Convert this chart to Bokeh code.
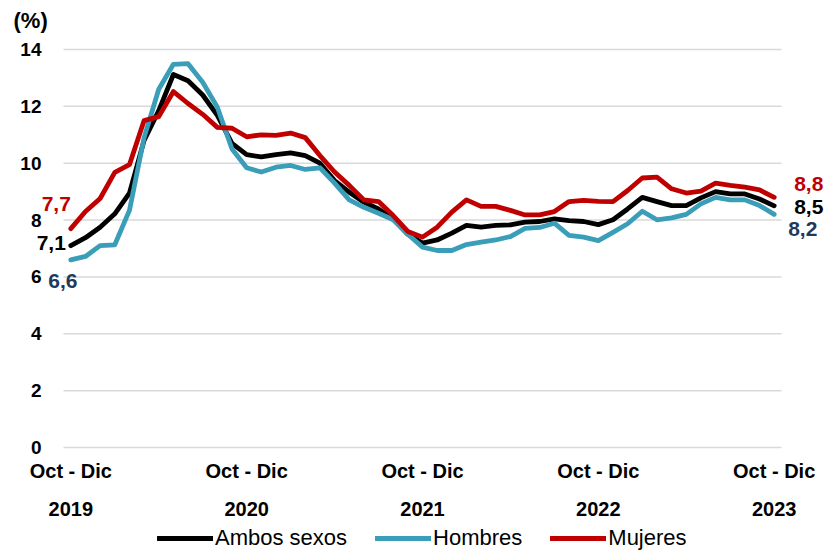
from bokeh.plotting import figure
from bokeh.models import Range1d, Legend, LegendItem, ColumnDataSource
from bokeh.core.properties import value
from bokeh.embed import file_html
from bokeh.resources import INLINE

# ---------------- data ----------------
periods = list(range(49))  # moving quarters, Oct-Dic 2019 ... Oct-Dic 2023
ambos = [7.1, 7.38, 7.75, 8.22, 8.95, 10.8, 11.85, 13.12, 12.9, 12.4, 11.68, 10.7,
         10.3, 10.22, 10.3, 10.36, 10.27, 10.0, 9.39, 8.98, 8.63, 8.39, 8.04, 7.5,
         7.19, 7.3, 7.54, 7.81, 7.75, 7.81, 7.83, 7.93, 7.95, 8.04, 7.98, 7.95,
         7.84, 8.01, 8.39, 8.8, 8.65, 8.51, 8.51, 8.78, 9.0, 8.92, 8.92, 8.74, 8.5]
hombres = [6.6, 6.72, 7.1, 7.13, 8.34, 10.9, 12.6, 13.48, 13.5, 12.85, 11.97, 10.5,
           9.84, 9.69, 9.86, 9.92, 9.78, 9.84, 9.3, 8.71, 8.45, 8.24, 8.01, 7.5,
           7.05, 6.93, 6.93, 7.14, 7.22, 7.3, 7.42, 7.71, 7.74, 7.89, 7.46, 7.4,
           7.28, 7.57, 7.87, 8.31, 8.01, 8.08, 8.2, 8.57, 8.8, 8.71, 8.71, 8.51, 8.2]
mujeres = [7.7, 8.3, 8.76, 9.68, 9.95, 11.5, 11.64, 12.52, 12.1, 11.72, 11.26, 11.23,
           10.93, 11.0, 10.98, 11.06, 10.9, 10.27, 9.69, 9.22, 8.71, 8.65, 8.16, 7.6,
           7.4, 7.75, 8.28, 8.71, 8.48, 8.48, 8.34, 8.18, 8.18, 8.3, 8.65, 8.69,
           8.66, 8.65, 9.04, 9.48, 9.51, 9.1, 8.95, 9.02, 9.3, 9.22, 9.16, 9.06, 8.8]
series_names = ["Ambos sexos", "Hombres", "Mujeres"]
tick_positions = [0, 12, 24, 36, 48]
tick_period = ["Oct - Dic", "Oct - Dic", "Oct - Dic", "Oct - Dic", "Oct - Dic"]
tick_years = ["2019", "2020", "2021", "2022", "2023"]
y_ticks = [0, 2, 4, 6, 8, 10, 12, 14]
unit_text = "(%)"

# ---------------- layout / style ----------------
W, H = 839, 552
FONT = "Liberation Sans"
colors = ["#000000", "#3A9EB8", "#C00000"]
label_colors = ["#000000", "#1F3A5C", "#C00000"]

# plotting domain and where it sits on the canvas (pixels)
x_lo, x_hi = -0.5, 48.5
y_lo, y_hi = 0, 14
left_px, right_px, top_px, bottom_px = 63, 781, 49, 447
xs = (right_px - left_px) / (x_hi - x_lo)
ys = (bottom_px - top_px) / (y_hi - y_lo)
x_range = Range1d(x_lo - left_px / xs, x_hi + (W - right_px) / xs)
y_range = Range1d(y_lo - (H - bottom_px) / ys, y_hi + top_px / ys)

p = figure(width=W, height=H, x_range=x_range, y_range=y_range,
           output_backend="svg", toolbar_location=None,
           x_axis_type=None, y_axis_type=None,
           min_border=0, min_border_left=0, min_border_right=0,
           min_border_top=0, min_border_bottom=0)
p.outline_line_color = None
p.background_fill_color = "white"
p.border_fill_color = "white"
p.xgrid.visible = False
p.ygrid.visible = False

# horizontal gridlines
p.segment(x0=[x_lo] * len(y_ticks), x1=[x_hi] * len(y_ticks), y0=y_ticks, y1=y_ticks,
          line_color="#D9D9D9", line_width=1.5)

# y tick labels
p.text(x=[x_lo] * len(y_ticks), y=y_ticks, text=[str(t) for t in y_ticks],
       x_offset=-22, text_align="right", text_baseline="middle",
       text_font=value(FONT), text_font_style="bold", text_font_size="19px",
       text_color="#000000")

# x tick labels: period row and year row
p.text(x=tick_positions, y=[y_lo] * len(tick_positions), text=tick_period,
       y_offset=23, text_align="center", text_baseline="middle",
       text_font=value(FONT), text_font_style="bold", text_font_size="20px",
       text_color="#000000")
p.text(x=tick_positions, y=[y_lo] * len(tick_positions), text=tick_years,
       y_offset=61, text_align="center", text_baseline="middle",
       text_font=value(FONT), text_font_style="bold", text_font_size="20px",
       text_color="#000000")

# unit label
p.text(x=[x_lo], y=[y_hi], text=[unit_text], x_offset=-50, y_offset=-29,
       text_align="left", text_baseline="middle",
       text_font=value(FONT), text_font_style="bold", text_font_size="22px",
       text_color="#000000")

# lines
renderers = []
for vals, col in zip([ambos, hombres, mujeres], colors):
    r = p.line(periods, vals, line_color=col, line_width=4.8,
               line_cap="round", line_join="round")
    renderers.append(r)

# first / last value labels
def fmt(v):
    return f"{v:.1f}".replace(".", ",")

all_series = [ambos, hombres, mujeres]
start_src = ColumnDataSource(dict(
    x=[periods[0]] * 3,
    y=[s[0] for s in all_series],
    t=[fmt(s[0]) for s in all_series],
    c=label_colors,
    xo=[-5, -8, 0],
    yo=[-3, 21, -25],
    al=["right", "center", "right"],
))
end_src = ColumnDataSource(dict(
    x=[periods[-1]] * 3,
    y=[s[-1] for s in all_series],
    t=[fmt(s[-1]) for s in all_series],
    c=label_colors,
    xo=[20, 14, 20],
    yo=[1, 15, -13],
    al=["left", "left", "left"],
))
for src in (start_src, end_src):
    p.text(x="x", y="y", text="t", source=src, text_color="c", x_offset="xo",
           y_offset="yo", text_align="al", text_baseline="middle",
           text_font=value(FONT), text_font_style="bold", text_font_size="21px")

# legend
legend = Legend(items=[LegendItem(label=n, renderers=[r]) for n, r in zip(series_names, renderers)],
                orientation="horizontal", location=(157, 1), glyph_width=56, glyph_height=16,
                label_standoff=2, spacing=28, padding=0, margin=0,
                border_line_color=None, background_fill_alpha=0,
                label_text_font=FONT, label_text_font_size="22px", label_text_color="#000000")
p.add_layout(legend)

open("out.html", "w").write(file_html(p, INLINE))
